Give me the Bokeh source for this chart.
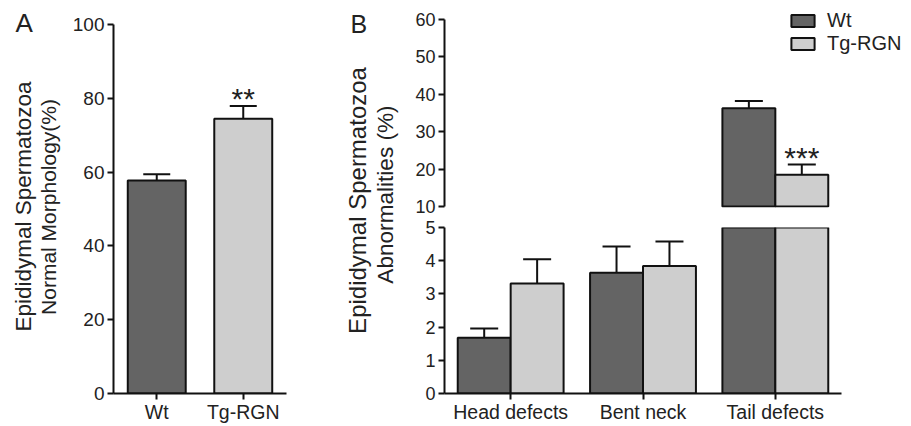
from math import pi
from bokeh.plotting import figure
from bokeh.models import (ColumnDataSource, FactorRange, Range1d, FixedTicker, Whisker,
                          TeeHead, Label, Legend, LegendItem)
from bokeh.layouts import row, column
from bokeh.core.properties import value
from bokeh.embed import file_html
from bokeh.resources import INLINE

# ---------------- data ----------------
groups_a = ["Wt", "Tg-RGN"]
normal_mean = [57.7, 74.4]
normal_sem = [1.7, 3.5]
signif_a = ["", "**"]

categories_b = ["Head defects", "Bent neck", "Tail defects"]
wt_mean = [1.68, 3.64, 36.3]
wt_sem = [0.28, 0.79, 1.9]
tg_mean = [3.31, 3.84, 18.5]
tg_sem = [0.73, 0.74, 2.7]
signif_wt = ["", "", ""]
signif_tg = ["", "", "***"]

ticks_a = [0, 20, 40, 60, 80, 100]
ticks_b_upper = [10, 20, 30, 40, 50, 60]
ticks_b_lower = [0, 1, 2, 3, 4, 5]
break_low, break_high = 5, 10

series_names = ["Wt", "Tg-RGN"]

# ---------------- style ----------------
FONT = "Liberation Sans"
TXT = "#222222"
AX = "#111111"
DARK = "#646464"
LIGHT = "#cecece"
H = 425
A_TOP, A_BOTTOM = 24, 395          # pixel rows of 100 and 0 on panel A's axis


def style_axis(ax, size="19px"):
    ax.axis_line_color = AX
    ax.axis_line_width = 2
    ax.major_tick_line_color = AX
    ax.major_tick_line_width = 2
    ax.major_tick_out = 6
    ax.major_tick_in = 0
    ax.minor_tick_line_color = None
    ax.major_label_text_font = FONT
    ax.major_label_text_font_size = size
    ax.major_label_text_color = TXT


def text_fig(width):
    # frame is aligned with panel A's frame (rows 0 .. A_BOTTOM); y data = -pixel row
    f = figure(width=width, height=H, x_range=Range1d(0, width), y_range=Range1d(-A_BOTTOM, 0),
               toolbar_location=None, output_backend="svg", x_axis_type=None, y_axis_type=None,
               min_border=0, min_border_left=0, min_border_right=0, min_border_top=0,
               min_border_bottom=H - A_BOTTOM)
    f.outline_line_color = None
    return f


def add_text(f, x, row_px, txt, size, angle=0, align="left", baseline="top"):
    f.add_layout(Label(x=x, y=-row_px, text=txt, angle=angle, text_align=align,
                       text_baseline=baseline, text_font=FONT, text_font_size=size,
                       text_color=TXT))


# ---------------- panel A ----------------
figAL = text_fig(66)
add_text(figAL, 15, 8, "A", "26px")
add_text(figAL, 23, 207, "Epididymal Spermatozoa", "22.5px", pi / 2, "center", "middle")
add_text(figAL, 48, 207.5, "Normal Morphology(%)", "21px", pi / 2, "center", "middle")

a_scale = (A_BOTTOM - A_TOP) / (ticks_a[-1] - ticks_a[0])
figA = figure(width=264, height=H, x_range=FactorRange(factors=groups_a, range_padding=0),
              y_range=Range1d(ticks_a[0], ticks_a[-1] + A_TOP / a_scale), toolbar_location=None,
              output_backend="svg", min_border_left=47, min_border_right=44,
              min_border_top=0, min_border_bottom=H - A_BOTTOM)
figA.outline_line_color = None
figA.grid.visible = False
srcA = ColumnDataSource(dict(g=groups_a, mean=normal_mean,
                             upper=[m + s for m, s in zip(normal_mean, normal_sem)],
                             sig=signif_a, color=[DARK, LIGHT]))
figA.vbar(x="g", top="mean", bottom=0, width=0.67, source=srcA, fill_color="color",
          line_color=AX, line_width=2)
figA.add_layout(Whisker(source=srcA, base="g", lower="mean", upper="upper", dimension="height",
                        lower_head=None,
                        upper_head=TeeHead(size=27, line_color=AX, line_width=2),
                        line_color=AX, line_width=2))
figA.text(x="g", y="upper", text="sig", source=srcA, text_font=value(FONT),
          text_font_size="30px", text_align="center", text_baseline="alphabetic",
          y_offset=-7, text_color=TXT)
figA.yaxis.ticker = FixedTicker(ticks=ticks_a)
figA.yaxis.bounds = (ticks_a[0], ticks_a[-1])
style_axis(figA.yaxis[0], "19px")
style_axis(figA.xaxis[0], "19.5px")
figA.yaxis.major_label_standoff = 3
figA.xaxis.major_label_standoff = 1

# ---------------- panel B ----------------
figBL = text_fig(70)
add_text(figBL, 20, 10, "B", "25px")
add_text(figBL, 27, 201, "Epididymal Spermatozoa", "24px", pi / 2, "center", "middle")
add_text(figBL, 55, 195, "Abnormalities (%)", "22.6px", pi / 2, "center", "middle")

# numeric category axis: category i is centred at i + 0.5; the frame continues to the
# right of the x axis (and above 60) so the legend has room
B_WIDTH, B_LEFT = 510, 44
px_per_cat = 397 / len(categories_b)
xr = Range1d(0, (B_WIDTH - B_LEFT) / px_per_cat)
cat_pos = [i + 0.5 for i in range(len(categories_b))]

TOP_H, TOP_FRAME_BOTTOM, TOP_Y60, TOP_Y10 = 216, 207, 19, 206
top_scale = (TOP_Y10 - TOP_Y60) / (ticks_b_upper[-1] - ticks_b_upper[0])
top_range = Range1d(ticks_b_upper[0] - (TOP_FRAME_BOTTOM - TOP_Y10) / top_scale,
                    ticks_b_upper[-1] + TOP_Y60 / top_scale)


def series_src(means, sems, sig, off, keep):
    rows = [i for i in range(len(categories_b)) if keep(means[i], sems[i])]
    return ColumnDataSource(dict(
        x=[cat_pos[i] + off for i in rows],
        mean=[means[i] for i in rows],
        upper=[means[i] + sems[i] for i in rows],
        sig=[sig[i] for i in rows]))


figBtop = figure(width=B_WIDTH, height=TOP_H, x_range=xr, y_range=top_range,
                 toolbar_location=None, output_backend="svg", x_axis_location=None,
                 min_border_left=B_LEFT, min_border_right=0, min_border_top=0,
                 min_border_bottom=TOP_H - TOP_FRAME_BOTTOM)
figBbot = figure(width=B_WIDTH, height=H - TOP_H, x_range=xr,
                 y_range=Range1d(ticks_b_lower[0], ticks_b_lower[-1]),
                 toolbar_location=None, output_backend="svg",
                 min_border_left=B_LEFT, min_border_right=0, min_border_top=11,
                 min_border_bottom=31)
for f in (figBtop, figBbot):
    f.outline_line_color = None
    f.grid.visible = False

series = [(wt_mean, wt_sem, signif_wt, -0.2, DARK), (tg_mean, tg_sem, signif_tg, 0.2, LIGHT)]
top_renderers = []
for means, sems, sig, off, color in series:
    # lower segment (0 - 5): all bars, clipped at the axis break
    src_all = series_src(means, sems, sig, off, lambda m, s: True)
    figBbot.vbar(x="x", top="mean", bottom=0, width=0.4, source=src_all, fill_color=color,
                 line_color=AX, line_width=2)
    src_lo = series_src(means, sems, sig, off, lambda m, s: m + s <= break_low)
    figBbot.add_layout(Whisker(source=src_lo, base="x", lower="mean", upper="upper",
                               dimension="height", lower_head=None,
                               upper_head=TeeHead(size=28, line_color=AX, line_width=2),
                               line_color=AX, line_width=2))
    # upper segment (10 - 60)
    src_hi = series_src(means, sems, sig, off, lambda m, s: m >= break_high)
    r = figBtop.vbar(x="x", top="mean", bottom=break_high, width=0.4, source=src_hi,
                     fill_color=color, line_color=AX, line_width=2)
    top_renderers.append(r)
    figBtop.add_layout(Whisker(source=src_hi, base="x", lower="mean", upper="upper",
                               dimension="height", lower_head=None,
                               upper_head=TeeHead(size=28, line_color=AX, line_width=2),
                               line_color=AX, line_width=2))
    figBtop.text(x="x", y="upper", text="sig", source=src_hi, text_font=value(FONT),
                 text_font_size="30px", text_align="center", text_baseline="alphabetic",
                 y_offset=-7, text_color=TXT)

figBtop.yaxis.ticker = FixedTicker(ticks=ticks_b_upper)
figBtop.yaxis.bounds = (ticks_b_upper[0], ticks_b_upper[-1])
figBbot.yaxis.ticker = FixedTicker(ticks=ticks_b_lower)
figBbot.xaxis.ticker = FixedTicker(ticks=cat_pos)
figBbot.xaxis.major_label_overrides = {p: c for p, c in zip(cat_pos, categories_b)}
figBbot.xaxis.bounds = (0, len(categories_b))
style_axis(figBtop.yaxis[0], "18px")
style_axis(figBbot.yaxis[0], "18px")
style_axis(figBbot.xaxis[0], "19.5px")
figBtop.yaxis.major_label_standoff = 3
figBbot.yaxis.major_label_standoff = 3
figBbot.xaxis.major_label_standoff = 1

legend = Legend(items=[LegendItem(label=series_names[0], renderers=[top_renderers[0]]),
                       LegendItem(label=series_names[1], renderers=[top_renderers[1]])],
                location=(344, 152), glyph_width=29, glyph_height=15,
                label_text_font=FONT, label_text_font_size="20px", label_text_color=TXT,
                label_standoff=10, spacing=-9, padding=0, margin=0,
                border_line_color=None, background_fill_alpha=0)
figBtop.add_layout(legend)

layout = row(figAL, figA, figBL, column(figBtop, figBbot))
open("out.html", "w").write(file_html(layout, INLINE))
